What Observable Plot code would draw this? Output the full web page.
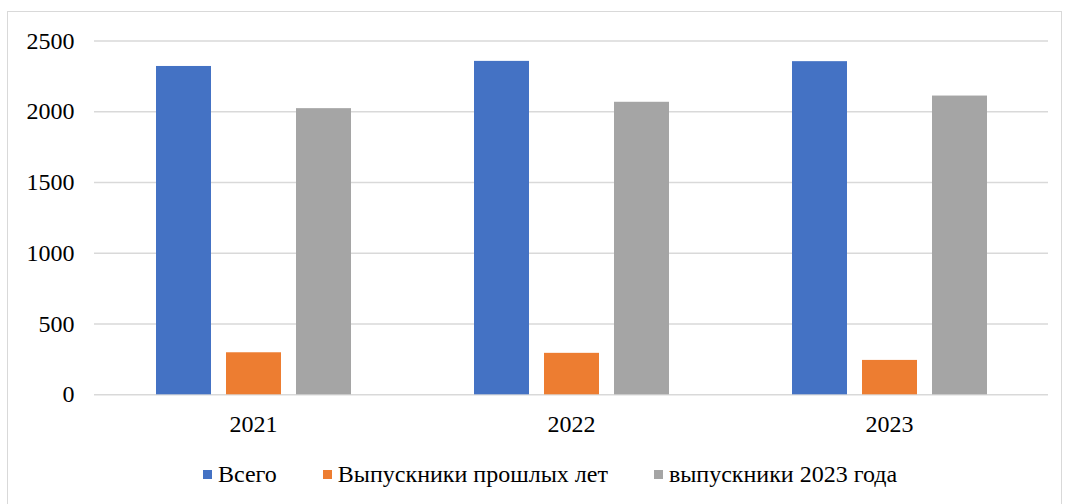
<!DOCTYPE html>
<html>
<head>
<meta charset="utf-8">
<script src="https://cdn.jsdelivr.net/npm/d3@7"></script>
<script src="https://cdn.jsdelivr.net/npm/@observablehq/plot@0.6"></script>
<style>
  html, body { margin: 0; padding: 0; background: #fff; }
  body { position: relative; width: 1065px; height: 504px; overflow: hidden; }
  #frame { position: absolute; left: 7px; top: 11px; width: 1055px; height: 520px; border: 1px solid #d9d9d9; box-sizing: border-box; }
  #chart { position: absolute; left: 0; top: 0; }
  #legend { position: absolute; left: 203px; top: 460px; display: flex; align-items: center; font-size: 24px; line-height: 28px; color: #000; white-space: nowrap; }
  .item { display: flex; align-items: center; margin-right: 46px; }
  .sw { width: 9px; height: 9px; margin-right: 6px; }
</style>
</head>
<body>
<div id="frame"></div>
<div id="chart"></div>
<div id="legend" style="font-family:'Liberation Serif'"></div>
<script>
const years = ["2021", "2022", "2023"];
const series = ["Всего", "Выпускники прошлых лет", "выпускники 2023 года"];
const total = [2320, 2356, 2354];
const past = [297, 293, 243];
const grads2023 = [2022, 2067, 2111];
const colors = ["#4472C4", "#ED7D31", "#A5A5A5"];
const yTicks = [0, 500, 1000, 1500, 2000, 2500];

const values = [total, past, grads2023];
const data = [];
years.forEach((yr, i) => {
  series.forEach((s, j) => data.push({year: yr, series: s, value: values[j][i]}));
});

const chart = Plot.plot({
  width: 1065,
  height: 440,
  marginLeft: 93,
  marginRight: 17,
  marginTop: 40.5,
  marginBottom: 45.7,
  style: {fontFamily: "'Liberation Serif'", fontSize: "24px", color: "#000", background: "transparent"},
  fx: {domain: years, padding: 0, axis: "bottom", label: null, tickSize: 0, tickPadding: 20},
  x: {domain: series, paddingInner: 0.22, paddingOuter: 0.868, axis: null},
  y: {domain: [0, 2500], ticks: yTicks, tickSize: 0, tickPadding: 20, label: null, tickFormat: d => String(d)},
  color: {domain: series, range: colors},
  marks: [
    Plot.ruleY(yTicks, {y: d => d, stroke: "#d9d9d9", strokeWidth: 1.4}),
    Plot.barY(data, {fx: "year", x: "series", y: "value", fill: "series"})
  ]
});
chart.querySelectorAll("text").forEach(t => t.setAttribute("font-family", "Liberation Serif"));
document.getElementById("chart").appendChild(chart);

const legend = document.getElementById("legend");
series.forEach((s, i) => {
  const item = document.createElement("div");
  item.className = "item";
  const sw = document.createElement("div");
  sw.className = "sw";
  sw.style.background = colors[i];
  const t = document.createElement("span");
  t.textContent = s;
  item.appendChild(sw);
  item.appendChild(t);
  legend.appendChild(item);
});
</script>
</body>
</html>
